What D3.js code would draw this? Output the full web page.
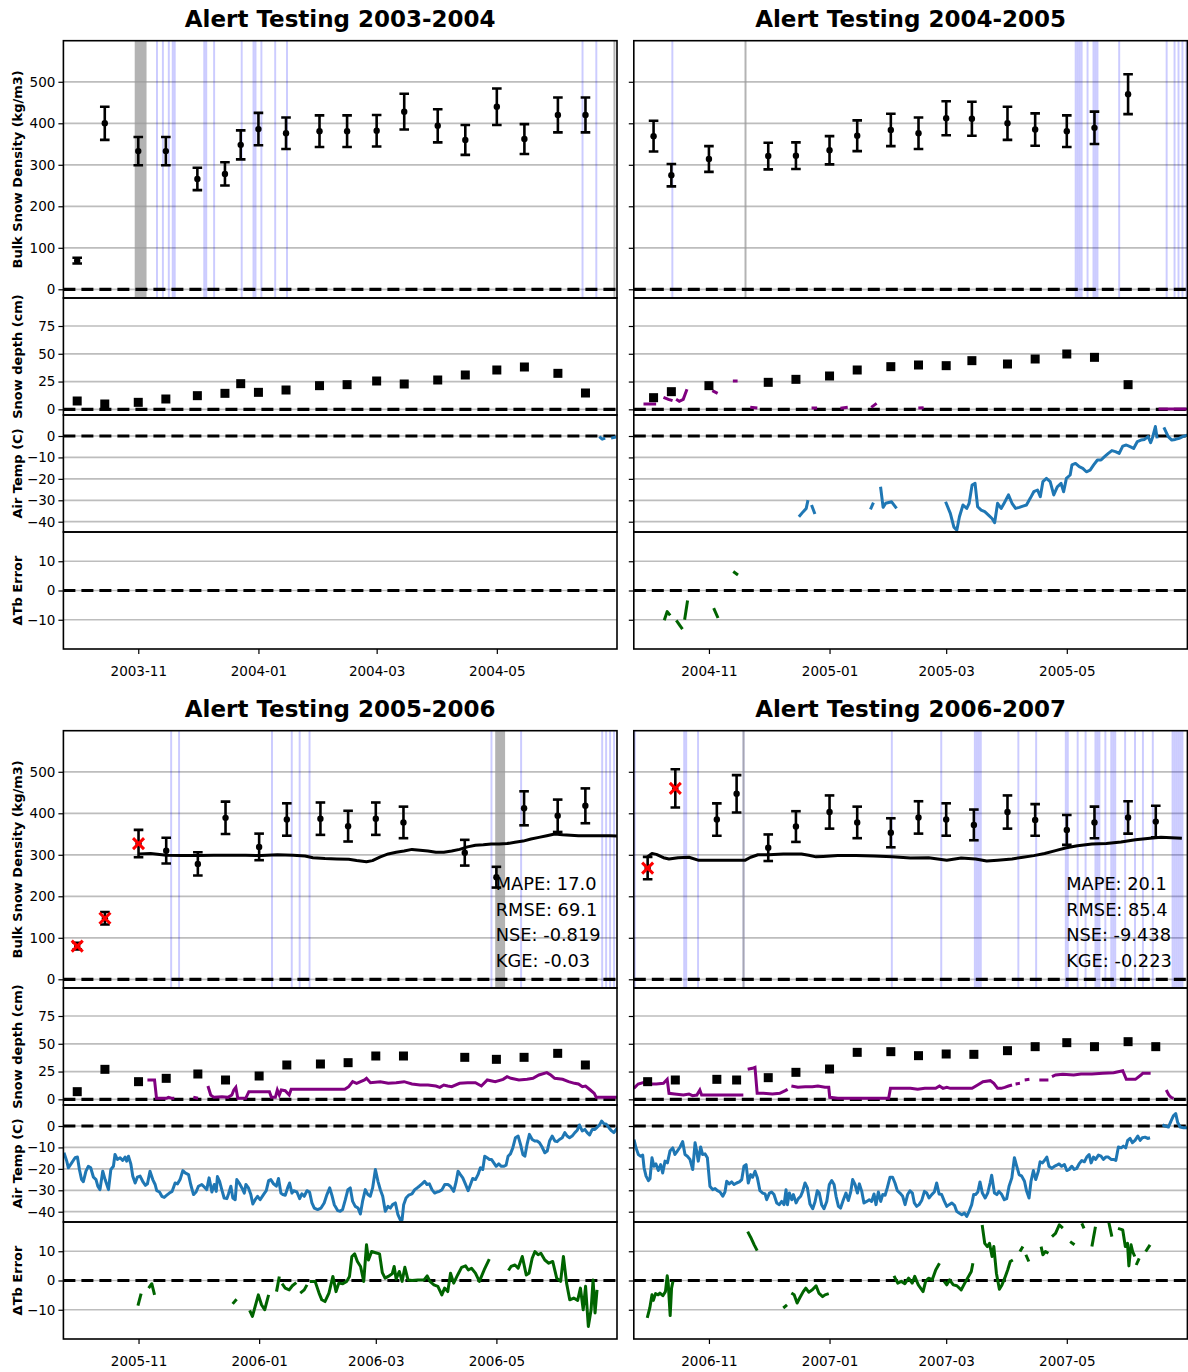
<!DOCTYPE html>
<html>
<head>
<meta charset="utf-8">
<script src="https://cdn.jsdelivr.net/npm/d3@7"></script>
<style>
  body { margin: 0; background: #fff; }
  svg { display: block; }
  text { font-family: "DejaVu Sans", sans-serif; fill: #000; }
</style>
</head>
<body>
<svg id="chart" width="1188" height="1372"></svg>
<script>
// ---------------- Season definitions ----------------
const titles = ["Alert Testing 2003-2004", "Alert Testing 2004-2005", "Alert Testing 2005-2006", "Alert Testing 2006-2007"];
const seasonStart = ["2003-09-24", "2004-09-24", "2005-09-24", "2006-09-24"];
const seasonEnd = ["2004-07-01", "2005-07-01", "2006-07-01", "2007-07-01"];

const xTicks_0304 = ["2003-11-01", "2004-01-01", "2004-03-01", "2004-05-01"];
const xTicks_0405 = ["2004-11-01", "2005-01-01", "2005-03-01", "2005-05-01"];
const xTicks_0506 = ["2005-11-01", "2006-01-01", "2006-03-01", "2006-05-01"];
const xTicks_0607 = ["2006-11-01", "2007-01-01", "2007-03-01", "2007-05-01"];

const densityTicks = [0, 100, 200, 300, 400, 500];
const depthTicks = [0, 25, 50, 75];
const tempTicks = [0, -10, -20, -30, -40];
const dtbTicks = [-10, 0, 10];

// ---------------- Snow-pit observations ----------------
const obsDates_0304 = ["2003-10-01","2003-10-15","2003-11-01","2003-11-15","2003-12-01","2003-12-15","2003-12-23","2004-01-01","2004-01-15","2004-02-01","2004-02-15","2004-03-01","2004-03-15","2004-04-01","2004-04-15","2004-05-01","2004-05-15","2004-06-01","2004-06-15"];
const density_0304 = [69, 400, 333, 333, 266, 278, 348, 386, 376, 381, 381, 382, 428, 394, 360, 440, 362, 420, 420];
const densityErr_0304 = [7, 40, 34, 34, 27, 28, 35, 39, 38, 38, 38, 38, 43, 40, 36, 44, 36, 42, 42];
const depth_0304 = [7.5, 4.8, 6.3, 9.3, 12.3, 14.4, 23.1, 15.3, 17.4, 21.3, 22.2, 25.5, 22.8, 26.4, 30.9, 35.4, 38.1, 32.4, 14.7];
const flagged_0304 = [];

const obsDates_0405 = ["2004-10-04","2004-10-13","2004-11-01","2004-12-01","2004-12-15","2005-01-01","2005-01-15","2005-02-01","2005-02-15","2005-03-01","2005-03-14","2005-04-01","2005-04-15","2005-05-01","2005-05-15","2005-06-01"];
const density_0405 = [369, 275, 314, 321, 322, 335, 370, 384, 376, 412, 411, 400, 385, 381, 389, 470];
const densityErr_0405 = [37, 27, 31, 32, 32, 34, 37, 39, 38, 41, 41, 40, 39, 38, 39, 48];
const depth_0405 = [10.5, 15.9, 21.3, 24.3, 27, 30, 35.4, 38.4, 39.9, 39.3, 43.8, 40.8, 45.3, 49.8, 46.8, 22.2];
const flagged_0405 = [];

const obsDates_0506 = ["2005-10-01","2005-10-15","2005-11-01","2005-11-15","2005-12-01","2005-12-15","2006-01-01","2006-01-15","2006-02-01","2006-02-15","2006-03-01","2006-03-15","2006-04-15","2006-05-01","2006-05-15","2006-06-01","2006-06-15"];
const density_0506 = [80, 147, 327, 310, 278, 389, 319, 385, 387, 369, 387, 378, 305, 246, 412, 394, 418];
const densityErr_0506 = [8, 15, 33, 31, 28, 39, 32, 39, 39, 37, 39, 38, 31, 25, 41, 39, 42];
const depth_0506 = [6.9, 27, 15.9, 18.9, 22.8, 17.4, 21, 30.9, 31.8, 33, 39, 39, 37.8, 36, 37.8, 41.4, 30.9];
const flagged_0506 = [0, 1, 2];

const obsDates_0607 = ["2006-10-01","2006-10-15","2006-11-05","2006-11-15","2006-12-01","2006-12-15","2007-01-01","2007-01-15","2007-02-01","2007-02-15","2007-03-01","2007-03-15","2007-04-01","2007-04-15","2007-05-01","2007-05-15","2007-06-01","2007-06-15"];
const density_0607 = [268, 460, 385, 447, 317, 368, 403, 378, 353, 390, 385, 372, 403, 384, 360, 378, 390, 380];
const densityErr_0607 = [27, 46, 39, 45, 32, 37, 40, 38, 35, 39, 39, 37, 40, 38, 36, 38, 39, 38];
const depth_0607 = [15.9, 17.4, 18, 17.4, 19.5, 24.3, 27.3, 42.3, 42.9, 39.3, 40.8, 40.5, 43.8, 47.4, 51, 47.4, 51.9, 47.4];
const flagged_0607 = [0, 1];

// ---------------- Event days (days since season start) ----------------
const spansBlue_0304 = [47, 50, 53, 55, 56, 71, 72, 76, 90, 96, 97, 100, 107, 113, 263, 270];
const spansGray_0304 = [[36.2, 42.2], [279.2, 280.2]];
const spansBlue_0405 = [19, 223, 224, 225, 226, 229, 232, 233, 234, 245, 269, 273, 275, 277, 279];
const spansGray_0405 = [[56, 57]];
const spansBlue_0506 = [54, 58, 105, 115, 119, 124, 216, 231, 272, 274, 276, 278];
const spansGray_0506 = [[218.4, 223.4]];
const spansBlue_0607 = [0, 25, 26, 32, 55, 130, 155, 172, 173, 174, 175, 194, 203, 218, 219, 224, 228, 233, 234, 235, 238, 241, 242, 243, 248, 253, 257, 262, 272, 273, 274, 275, 276, 277];
const spansGray_0607 = [[55, 56]];

// ---------------- Modelled bulk density [day, kg/m3] ----------------
const model_0304 = [];
const model_0405 = [];
const model_0506 = [[38.1,302],[44.1,303],[52.1,299],[60.1,298],[68.1,298],[76.1,299],[84.2,299],[92.2,299],[100.2,298],[108.2,300],[116.2,299],[122.2,297],[126.2,293],[132.3,291],[138.3,290],[144.3,289],[148.3,286],[153.3,283],[156.3,286],[160.3,295],[164.3,302],[168.3,306],[172.3,309],[176.3,313],[180.4,311],[184.4,309],[188.4,306],[192.4,306],[196.4,309],[200.4,313],[204.4,319],[208.4,323],[212.4,324],[216.4,326],[220.4,326],[224.4,327],[228.4,330],[232.5,333],[236.5,338],[240.5,342],[244.5,346],[248.5,350],[252.5,348],[256.5,347],[260.5,346],[264.5,346],[268.5,346],[272.5,346],[276.5,346],[280.2,345]];
const model_0607 = [[6.8,295],[9.2,303],[11.4,301],[15,293],[17.8,290],[22.4,293],[27.9,294],[32.5,287],[38.9,287],[48.1,287],[56.4,287],[59.1,294],[62.8,300],[68.3,300],[75.6,302],[84.8,302],[88.5,299],[92.2,295],[95.8,296],[103.2,298],[112.4,298],[121.5,297],[130.7,295],[139.9,292],[149.1,293],[158.3,287],[165.6,292],[172.9,290],[178.5,285],[184,287],[191.3,290],[196.8,294],[202.3,298],[207.8,303],[213.3,310],[218.8,317],[224.4,322],[231.7,326],[239,327],[246.4,331],[253.7,336],[261.1,340],[266.6,342],[277.2,340]];

const metrics_0304 = [];
const metrics_0405 = [];
const metrics_0506 = ["MAPE: 17.0", "RMSE: 69.1", "NSE: -0.819", "KGE: -0.03"];
const metrics_0607 = ["MAPE: 20.1", "RMSE: 85.4", "NSE: -9.438", "KGE: -0.223"];

// ---------------- Station series, gaps split into segments [day, value] ----------------
const snowSensor_0304 = [];
const snowSensor_0405 = [
  [[4.9,4.8],[11.3,4.8]],
  [[15,10.8],[17.5,9],[19.6,7.8]],
  [[21.4,9],[23,7.2],[25,9],[26.9,18]],
  [[39.7,16.8],[42.4,14.4]],
  [[50.1,25.5],[52.5,25.5]],
  [[58.9,1.8],[62.5,1.2]],
  [[89.9,1.2],[92.7,1.2]],
  [[104.5,0.9],[108.2,1.8]],
  [[120.1,1.8],[122.8,5.4]],
  [[143.9,1.2],[146.6,1.5]],
  [[265.4,0.3],[280,0.3]]
];
const snowSensor_0506 = [
  [[42.5,17.4],[46.1,17.4],[47.1,0.9],[52.1,0.9],[53.1,1.8],[55.1,0.9],[56.1,0.9]],
  [[65.7,1.8],[68.1,0.9]],
  [[73.1,12],[74.5,3.9],[76.1,1.8],[80.2,2.4],[83.2,1.8],[85.2,3.9],[86.2,8.4],[87.2,10.8],[88.2,0.9],[92.2,0.9],[93.8,6.9],[104.2,6.9],[105.2,1.8],[107.2,1.8],[108.2,8.4],[109.2,3.9],[110.2,8.4],[112.2,7.8],[114.2,3.9],[115.2,9],[117.2,9],[142.3,9],[144.3,11.4],[146.3,15.9],[148.3,14.4],[152.3,17.4],[153.3,18.9],[155.3,15],[160.3,15.9],[164.3,14.4],[168.3,15],[172.3,15.9],[176.3,13.8],[180.4,12.9],[184.4,12.9],[188.4,12],[190.4,10.8],[192.4,12.9],[194.4,12],[196.4,11.4],[200.4,14.4],[204.4,15],[208.4,15],[211.4,12],[214.4,17.4],[218.4,15.9],[222.4,18],[224.4,20.4],[226.4,18.9],[230.4,17.4],[234.5,18],[237.5,18.9],[240.5,21.9],[244.5,24],[246.5,21.9],[248.5,18.9],[252.5,18],[255.5,15.9],[258.5,14.4],[260.5,13.8],[262.5,11.4],[264.1,12],[266.5,8.4],[268.5,5.4],[269.5,1.8],[271.5,1.8],[280,1.8]]
];
const snowSensor_0607 = [
  [[0,9.9],[2.2,13.8],[4.9,15],[7.7,13.8],[11.4,13.8],[15,14.4],[16.9,18],[17.8,5.4],[20.6,4.8],[25.1,3.9],[27.9,4.8],[29.7,3.3],[31.9,3.9],[33.4,8.4],[34.3,3.9],[37.1,3.9],[40.8,3.9],[48.1,3.9],[55.4,3.9]],
  [[57.6,27],[60,27.9],[61.3,28.8],[62.4,5.4],[65.5,5.4],[70.1,4.8],[73.8,5.4],[76.6,7.8],[77.8,9]],
  [[79.7,12],[83,10.8],[86.7,11.4],[90.3,11.4],[93.1,12],[96.7,10.8],[98.6,10.8],[99.1,1.8],[103.2,0.9],[112.4,0.9],[121.5,0.9],[128.9,0.9],[129.8,9.9],[132.6,9.9],[136.2,9.9],[139.9,9.9],[143.6,9],[147.2,9.9],[152.7,9.9],[154.6,12],[156.4,9.9],[158.3,10.8],[160.1,9.9],[161.9,9.9],[165.6,9.9],[171.1,9.9],[173.9,12.9],[176.6,15.9],[180.3,16.8],[182.1,14.4],[184,9.9],[185.8,9.9],[187.6,10.8],[189.5,12],[191.3,12.9]],
  [[193.1,13.8],[195.3,14.4]],
  [[197.7,17.4],[200.1,18]],
  [[205.1,17.4],[209.7,17.4]],
  [[211.5,20.4],[213.3,21.9],[217,22.5],[222.5,21.9],[226.2,22.8],[231.7,22.8],[237.2,23.4],[242.7,24],[247.3,25.8],[249.1,18],[253.7,18],[256.5,21.9],[257.4,23.4],[261.4,23.4]],
  [[269.3,8.4],[270.6,3.9],[271.7,1.8],[273,0.9]]
];

const airTemp_0304 = [
  [[272,-0.3],[273.5,-1.5],[275,-1]],
  [[278,-1],[280.5,-0.5]]
];
const airTemp_0405 = [
  [[83.5,-37.7],[85.7,-35.3],[87.2,-33.8],[88.1,-29.9]],
  [[89.9,-32.2],[91.6,-36.4]],
  [[119.7,-34.2],[121.2,-31.1]],
  [[124.8,-23.7],[126.1,-33.3],[127.4,-31.4],[130.4,-30.7],[132.9,-33.8]],
  [[157.7,-30.7],[160.1,-36.1],[161.9,-42.5],[163.4,-43.9],[164.7,-37.7],[166.5,-32.2],[168.4,-33.8],[169.6,-31.4],[171.1,-22.9],[172.6,-22.1],[173.9,-33],[175.7,-34.6],[177.5,-35.3],[179.4,-36.9],[181.2,-38.5],[182.5,-40.5],[184,-31.4],[185.8,-33.8],[187.3,-31.4],[189.5,-27.5],[191.3,-31.4],[193.1,-33.8],[195,-33.3],[196.8,-32.7],[198.6,-32.2],[200.5,-29.1],[202.3,-26],[204.2,-25.2],[205.6,-28.3],[206.9,-21.3],[208.7,-19.8],[210.6,-21.3],[212.4,-27.5],[214.2,-23.7],[216.1,-22.1],[217.4,-26],[218.8,-19.8],[220.7,-18.2],[221.6,-13.5],[223.4,-12.8],[225.3,-14.3],[227.1,-15.1],[228.9,-16.7],[230.8,-15.9],[232.6,-13.5],[234.5,-11.2],[236.3,-11.2],[238.1,-9.6],[240,-8.1],[241.8,-6.8],[243.6,-7.3],[245.5,-8.1],[247.3,-4.7],[249.1,-4.2],[251,-5],[252.8,-5.8],[254.7,-2.6],[256.5,-1.9],[258.3,-1.6],[260.1,-0.3],[261.4,-3.1],[262.5,-0.3],[263.8,4.4],[264.7,-1.1]],
  [[268.1,4],[270.3,-0.3],[272.1,-1.9],[273.9,-1.6],[275.8,-1.1],[277.6,-0.3],[280.3,0.5]]
];
const airTemp_0506 = [
  [[0.3,-12.5],[1.7,-16.4],[2.5,-19.5],[4.2,-17.2],[5.9,-14.8],[7.1,-14.5],[8.1,-20.3],[9.2,-25],[10.1,-26],[11.4,-21.1],[12.6,-18.8],[13.8,-19.5],[15.2,-23.9],[16.5,-25],[17.4,-28.1],[18.5,-29.7],[19.9,-21.1],[21.1,-25],[22.8,-29.7],[24,-20.3],[25.3,-18.8],[26.1,-13.3],[27.3,-15.6],[28.7,-14.8],[30,-16.1],[31.2,-14.5],[32,-16.4],[32.9,-14.1],[34.1,-17.7],[35.1,-23.4],[36.3,-26.6],[37.4,-23.9],[38.8,-23.4],[40.1,-25.8],[41.5,-27.7],[42.5,-27],[43.8,-21.1],[45.2,-25],[46.4,-27.3],[47.2,-30.2],[48.6,-30.8],[49.8,-32.8],[51,-33.3],[52.3,-32.3],[53.6,-31.3],[55,-30.5],[56.5,-26.6],[57.7,-27],[59,-25],[60.4,-20.8],[61.6,-21.9],[63.3,-22.7],[64.4,-27.3],[65.8,-32],[67.1,-30.8],[68.3,-28.1],[70,-27.3],[71.4,-28.6],[72.5,-29.7],[73.7,-24.2],[75.1,-30.8],[76.3,-27.3],[77.3,-30.5],[77.9,-23.6],[79,-25.8],[80.1,-29.7],[81.3,-33.6],[82.7,-33.9],[83.5,-31.7],[84.7,-28.1],[85.7,-33.6],[86.9,-34.4],[87.7,-25],[88.9,-26.6],[90.3,-28.9],[91.5,-31.3],[92.3,-27.3],[93.6,-28.9],[94.8,-32],[95.8,-36.4],[97,-34.4],[98.2,-32.8],[99.5,-34.4],[101.2,-32],[102.6,-30.2],[103.8,-25.5],[104.9,-25],[106.3,-27],[107.7,-28.1],[108.8,-24.5],[110,-31.3],[111,-32],[112.2,-32.3],[113.4,-28.9],[114.4,-26.6],[115.6,-31.3],[116.4,-30.2],[118.1,-30.8],[119.5,-33.9],[120.6,-31.7],[121.8,-32.8],[123.2,-30.2],[124.5,-30.8],[125.7,-35.9],[126.9,-38.3],[128.6,-39],[130.3,-38.3],[131.9,-35.9],[133.3,-32],[134.7,-28.9],[135.8,-32.3],[137,-36.7],[138.8,-39.5],[140,-39.8],[141.2,-39],[142.6,-34.4],[143.9,-29.7],[145.1,-28.9],[146.3,-35.2],[147.6,-37.5],[149,-38.3],[150.2,-41.1],[151.3,-35.2],[152.7,-29.7],[154,-32],[155.2,-32.8],[156.4,-28.9],[157.8,-20.3],[159.1,-25.8],[160.3,-29.7],[161.5,-32.8],[162.8,-39.8],[164.2,-37.5],[165.4,-38.3],[166.5,-36.7],[167.9,-35.9],[169.2,-41.4],[170.4,-43.8],[171.3,-43.8],[172.1,-36.7],[173.3,-33.6],[174.6,-32.3],[176.3,-31.7],[177.7,-29.7],[178.9,-28.9],[180,-28.1],[181.4,-27],[182.7,-25.8],[183.9,-27.3],[185.1,-27],[186.4,-29.7],[187.8,-31.3],[189,-30.8],[190.2,-30.5],[191.5,-29.7],[192.9,-27.3],[194.5,-27.3],[195.7,-28.1],[197.4,-30.5],[198.6,-26.1],[199.6,-21.1],[200.8,-22.7],[202,-24.2],[203.3,-27],[204.7,-30.2],[205.9,-27.3],[207,-24.5],[208.4,-25],[209.7,-22.7],[210.9,-19.5],[212.1,-20.3],[213.1,-14.1],[214.3,-14.8],[215.5,-15.6],[216.5,-15.6],[217.7,-17.2],[218.9,-18.8],[220.2,-17.7],[221.5,-18.8],[222.7,-18.8],[223.9,-18.3],[224.9,-14.1],[226.1,-13],[227.3,-10.2],[228.6,-5.5],[230,-4.7],[231.2,-8.6],[232.4,-13.3],[233.4,-14.1],[234.5,-8.6],[235.7,-3.9],[237.1,-6.3],[238.4,-7],[239.6,-7],[240.8,-7.8],[242.1,-9.8],[243.5,-12.5],[244.7,-11.7],[245.9,-7],[247.2,-4.7],[248.6,-7],[249.7,-7.3],[250.9,-6.3],[252.3,-5.5],[253.6,-3.1],[254.8,-4.7],[256,-5.5],[257.3,-4.7],[258.7,-3.1],[259.9,-2],[261,0.5],[262.4,-2.3],[263.7,-1.6],[264.9,-3.1],[266.1,-4.2],[267.5,-1.6],[268.8,-1.6],[270,-0.5],[271.2,0.5],[272.2,2.3],[273.4,1.1],[274.6,0.8],[275.9,-0.8],[277.3,-2.3],[278.4,-3.1],[279.6,-1.6],[281,0]]
];
const airTemp_0607 = [
  [[0.1,-6.3],[1.1,-10.2],[2.3,-13.3],[3.5,-14.1],[4.5,-13.6],[5.2,-19.5],[6.2,-23.4],[7.4,-25.5],[8.2,-24.5],[9.2,-14.8],[10.2,-18.8],[11.2,-17.7],[12.4,-20.8],[13.6,-18],[14.6,-21.9],[15.8,-16.4],[17,-17.2],[18.3,-11.7],[19.7,-10.2],[20.8,-13.3],[22,-11.7],[23.4,-9.8],[24.7,-7.3],[25.9,-13.3],[27.1,-14.1],[28.4,-15.6],[29.8,-20.3],[31,-7.8],[31.8,-11.7],[32.6,-16.4],[33.8,-9.8],[34.8,-13.3],[36,-13],[37.2,-14.8],[38.5,-28.1],[39.9,-29.7],[41.1,-29.2],[42.3,-30.2],[43.6,-30.8],[45,-32.8],[46.1,-30.8],[47,-25.8],[48.3,-27],[49.5,-26.1],[50.7,-27.3],[52,-26.6],[53.4,-26.1],[54.6,-25],[55.7,-18.8],[56.8,-18],[57.9,-26.6],[59.1,-22.7],[60.1,-23.9],[61.3,-21.1],[62.5,-24.2],[63.8,-30.2],[65.2,-31.3],[66.4,-31.7],[67.2,-34.4],[68.6,-31.3],[69.7,-30.8],[70.9,-32],[72.3,-35.9],[73.6,-36.7],[74.8,-35.2],[76,-36.7],[77,-29.7],[77.7,-36.7],[78.7,-31.3],[79.9,-34.4],[80.7,-32],[82.1,-35.9],[83.2,-33.9],[84.4,-32.8],[85.4,-30.5],[86.6,-26.6],[87.8,-28.9],[89.1,-36.4],[90.5,-38.6],[91.7,-35.2],[92.8,-30.2],[93.8,-31.3],[95,-36.7],[96.2,-38.6],[97.6,-35.2],[98.9,-27.3],[100.1,-25.5],[101.3,-27.3],[102.3,-32.8],[103.5,-37.5],[104.6,-38.3],[106,-34.4],[107.3,-31.3],[108.5,-34.8],[109.7,-30.8],[110.7,-25],[111.9,-27.3],[113.1,-31.3],[114.1,-27],[115.3,-30.5],[116.4,-35.9],[117.8,-35.2],[119.1,-34.4],[120.3,-35.2],[121.5,-31.7],[122.5,-36.7],[123.7,-30.8],[124.9,-35.2],[125.9,-32],[127.1,-32.3],[128.2,-28.9],[129.6,-23.9],[130.9,-23.9],[132.1,-26.6],[133.3,-30.2],[134.6,-31.3],[136,-32.8],[137.2,-36.7],[138.5,-32],[139.7,-30.2],[140.9,-31.3],[141.9,-35.9],[143.1,-37.5],[144.3,-36.7],[145.6,-34.8],[147,-30.5],[148.2,-31.3],[149.3,-33.6],[150.7,-32],[152,-30.8],[153.2,-26.6],[154.4,-31.7],[155.7,-32],[157.1,-35.2],[158.3,-37.5],[159.5,-36.7],[160.8,-35.9],[162.2,-37],[163.3,-39.8],[164.5,-40.6],[165.9,-41.4],[167.2,-40.6],[168.4,-42.2],[169.6,-39.8],[170.9,-36.7],[171.9,-32],[172.9,-32],[174,-30.8],[175.1,-26.1],[176.3,-31.3],[177.7,-33.6],[179,-31.3],[180.2,-26.6],[181,-23],[182.4,-31.3],[183.6,-32],[184.7,-30.5],[186.1,-32],[187.4,-34.4],[188.6,-33.9],[189.8,-28.1],[191.2,-24.2],[192.5,-14.8],[193.7,-18.8],[194.9,-22.7],[196.2,-23.4],[197.6,-25.8],[198.7,-30.5],[199.9,-33.6],[200.9,-25.8],[202.1,-20.8],[203.3,-25],[204.6,-21.1],[205.5,-16.7],[206.7,-17.2],[207.7,-16.1],[208.9,-14.5],[210,-18.8],[211.4,-19.8],[212.7,-18.8],[213.9,-18.3],[215.1,-17.7],[216.4,-18.8],[217.8,-18],[219,-20.8],[220.2,-20.3],[221.5,-18.8],[222.8,-20.3],[224,-19.8],[225.2,-17.7],[226.6,-16.1],[227.9,-16.7],[229.1,-14.5],[230.3,-13.3],[231.3,-17.2],[232.5,-14.5],[233.6,-15.6],[235,-13.6],[236.3,-14.1],[237.5,-15.6],[238.7,-14.5],[240,-14.5],[241.4,-15.6],[242.6,-15.6],[243.8,-16.1],[245.1,-9.8],[246.5,-10.2],[247.6,-9.4],[248.8,-10.2],[249.8,-6.7],[251,-5.8],[252.2,-7.8],[253.5,-6.7],[254.9,-4.7],[256.1,-6.7],[257.2,-5.5],[258.6,-5.2],[259.9,-5.8],[261.1,-5.5]],
  [[267.4,0.5],[268.7,0],[270.4,-0.5],[271.7,2.3],[272.9,4.7],[274.1,5.8],[275.1,1.6],[276.3,-0.5],[278,-0.8],[280.2,-0.8]]
];

const dTb_0304 = [];
const dTb_0405 = [
  [[15.4,-10.2],[16.9,-7.2],[18.4,-8.5]],
  [[21.5,-10.2],[24.6,-13.2]],
  [[25.7,-10],[27.2,-3.4]],
  [[40.4,-6],[42.6,-9.4]],
  [[50.3,6.5],[52.7,5.3]]
];
const dTb_0506 = [
  [[37.7,-8.6],[39.3,-4.5]],
  [[43.1,-2.6],[44.7,-1.1],[46.1,-4.9]],
  [[85.6,-8],[87.6,-6.4]],
  [[94.2,-10.2],[95.6,-12.3],[97.2,-8.3],[98.6,-4.9],[100.2,-8.3],[101.8,-10],[103.8,-4.9]],
  [[107.8,-3.8],[109.2,1.4]],
  [[110.6,-1.1],[112.2,-2.6],[114.2,-3.2],[115.8,-1.8],[117.8,-0.7]],
  [[119.8,-4.3],[121.8,-3.2],[123.2,-1.5]],
  [[124.6,-0.3],[127.3,-0.3],[129.3,-4.3],[130.7,-6.6],[132.3,-7.2],[134.3,-4.3],[136.3,1.4],[137.9,-3.8],[139.3,-0.9],[141.3,-1.1],[143.3,-0.3],[144.7,1.4],[145.9,8.2],[147.3,9.1],[148.7,6.5],[150.3,4.8],[151.9,-0.3],[153.3,12.2],[154.3,7],[155.9,9.9],[157.9,9.5],[159.9,9.1],[161.3,2.7],[162.7,0.8],[164.3,1.4],[166.3,2.3],[167.3,4.8],[168.3,0.5],[169.9,3.1],[171.3,-0.3],[172.7,4.5],[174.3,0.2],[176.3,0],[179.3,0.2],[182.4,0.2],[184,1.6],[185.4,-0.3],[187.4,-1.5],[189.4,-2],[191.4,-4.9],[192.8,-2.6],[194.4,-3.8],[195.8,2.5],[197.4,-0.9],[199.4,1.9],[201.4,4.5],[203.4,5],[204.8,3.6],[206.4,4.2],[208.4,2.5],[210.4,-0.3],[212.8,3.6],[215.4,7.3]],
  [[225.1,3.4],[226.4,4.8],[228.4,5.3],[230,4.2],[232.1,8.2],[234.1,1.9],[235.5,2.5],[237.1,7.6],[238.5,9.9],[240.1,8.8],[241.5,9.3],[243.5,7],[245.5,5.9],[247.5,6.5],[249.5,0.8],[251.5,-0.3],[252.9,8.2],[254.5,-0.9],[256.1,-6.6],[258.1,-6],[260.1,-6.8],[261.5,-2.6],[262.9,-10],[264.1,-2],[265.5,-15.7],[266.9,-10],[267.9,0.2],[268.9,-11.1],[269.9,-3.2]]
];
const dTb_0607 = [
  [[6.8,-12.8],[8.1,-9.4],[9.2,-4.9],[9.9,-6.8],[11,-4.5],[12.3,-4.9],[13.2,-4.3],[14.7,-5.2],[16,-3.8],[16.9,1.6],[17.4,-0.9],[18.4,-12],[19.1,-2.6],[19.8,-0.3]],
  [[57.6,16.7],[59.1,14.8],[60.9,12.2],[62.4,10.2]],
  [[75.6,-9.4],[77.5,-8.3]],
  [[79.7,-4.3],[81.1,-4.9],[82.6,-7.7],[83.9,-6],[85.7,-3.8],[87,-2.6],[88.5,-4],[90.3,-3.2],[92.2,-1.8],[93.6,-4.3],[95.5,-5.5],[96.7,-4.9],[98.6,-4.5]],
  [[131.6,1.6],[133.5,-0.9],[135.3,-0.3],[137.1,-1.1],[139,0.8],[140.8,-0.9],[142.1,1.4],[143.9,-1.5],[146.3,-3.8],[147.6,-0.3],[149.1,0.8],[150.9,0.2],[152.7,3.6],[154.6,5.9]],
  [[157,-0.3],[158.3,-1.5],[159.7,0.2],[161.6,-1.5],[163.4,-1.8],[165.6,-3.2],[167.4,-0.9],[169.3,1.4],[170.7,3.1],[171.5,5.9]],
  [[176.2,19],[177.5,12.7],[178.8,11.6],[179.9,12.7],[181.2,8.2],[182.1,11.6],[183.4,2.5],[184.9,-3],[186.2,-1.5],[187.6,0.8],[189.1,3.6],[190.4,6.5],[191.7,7]],
  [[195.3,9.9],[196.8,11.6]],
  [[198.3,8.8],[199.8,6.5]],
  [[206,11.6],[206.9,8.8],[208.2,9.9],[209.7,9.3]],
  [[211.5,15],[213.3,16.1],[215.2,19],[217,17.9]],
  [[220.7,13.3],[222.9,12.2]],
  [[226.6,19.5],[227.7,17.8]],
  [[231.7,11.6],[233.5,18.4]],
  [[240,20.7],[241.8,15]],
  [[244.9,17.8],[247.3,17.3],[248.6,11.6],[249.7,12.7],[250.4,5],[251.5,12.2],[252.3,9.9],[253.4,8.2]],
  [[254.1,5.3],[255.6,7.6]],
  [[258.9,9.9],[261.1,12.2]]
];

// ---------------- Assemble seasons ----------------
const seasons = [
  {title: titles[0], start: seasonStart[0], end: seasonEnd[0], ticks: xTicks_0304, dates: obsDates_0304, dens: density_0304, err: densityErr_0304, depth: depth_0304, flagged: flagged_0304, blue: spansBlue_0304, gray: spansGray_0304, model: model_0304, metrics: metrics_0304, snow: snowSensor_0304, temp: airTemp_0304, dtb: dTb_0304},
  {title: titles[1], start: seasonStart[1], end: seasonEnd[1], ticks: xTicks_0405, dates: obsDates_0405, dens: density_0405, err: densityErr_0405, depth: depth_0405, flagged: flagged_0405, blue: spansBlue_0405, gray: spansGray_0405, model: model_0405, metrics: metrics_0405, snow: snowSensor_0405, temp: airTemp_0405, dtb: dTb_0405},
  {title: titles[2], start: seasonStart[2], end: seasonEnd[2], ticks: xTicks_0506, dates: obsDates_0506, dens: density_0506, err: densityErr_0506, depth: depth_0506, flagged: flagged_0506, blue: spansBlue_0506, gray: spansGray_0506, model: model_0506, metrics: metrics_0506, snow: snowSensor_0506, temp: airTemp_0506, dtb: dTb_0506},
  {title: titles[3], start: seasonStart[3], end: seasonEnd[3], ticks: xTicks_0607, dates: obsDates_0607, dens: density_0607, err: densityErr_0607, depth: depth_0607, flagged: flagged_0607, blue: spansBlue_0607, gray: spansGray_0607, model: model_0607, metrics: metrics_0607, snow: snowSensor_0607, temp: airTemp_0607, dtb: dTb_0607}
];

// ---------------- Layout ----------------
const panelX = [63.4, 633.8];
const panelW = 553.6;
const rowY = [0, 690];
const bands = {dens: [40.7, 298], depth: [298, 415], temp: [415, 532], dtb: [532, 649]};
const domains = {dens: [-21, 599], depth: [-5.1, 100.2], temp: [-44.8, 9.8], dtb: [-20, 20]};

const svg = d3.select("#chart");
const defs = svg.append("defs");
let clipCount = 0;
const toDate = s => new Date(s + "T00:00:00Z");
const DAY = 864e5;

seasons.forEach((s, i) => {
  const col = i % 2, row = Math.floor(i / 2);
  const left = panelX[col], right = left + panelW, oy = rowY[row];
  const t0 = toDate(s.start);
  const x = d3.scaleUtc().domain([t0, toDate(s.end)]).range([left, right]);
  const xd = d => x(new Date(t0.getTime() + d * DAY));
  const g = svg.append("g");

  g.append("text")
    .attr("x", (left + right) / 2).attr("y", oy + 27)
    .attr("text-anchor", "middle").attr("font-weight", "bold").attr("font-size", 23)
    .text(s.title);

  const axesDefs = [
    {key: "dens", ticks: densityTicks, label: "Bulk Snow Density (kg/m3)"},
    {key: "depth", ticks: depthTicks, label: "Snow depth (cm)"},
    {key: "temp", ticks: tempTicks, label: "Air Temp (C)"},
    {key: "dtb", ticks: dtbTicks, label: "\u0394Tb Error"}
  ];

  axesDefs.forEach(a => {
    const top = oy + bands[a.key][0], bot = oy + bands[a.key][1];
    const y = d3.scaleLinear().domain(domains[a.key]).range([bot, top]);
    const id = "clip" + (clipCount++);
    defs.append("clipPath").attr("id", id).append("rect")
      .attr("x", left).attr("y", top).attr("width", panelW).attr("height", bot - top);

    const ga = g.append("g");
    // horizontal grid
    ga.append("g").selectAll("line").data(a.ticks).join("line")
      .attr("x1", left).attr("x2", right)
      .attr("y1", d => y(d)).attr("y2", d => y(d))
      .attr("stroke", "#bdbdbd").attr("stroke-width", 1.7);

    const gc = ga.append("g").attr("clip-path", `url(#${id})`);

    if (a.key === "dens") {
      // flagged-day markers
      gc.append("g").selectAll("rect").data(s.blue).join("rect")
        .attr("x", d => xd(d)).attr("width", d => xd(d + 1) - xd(d))
        .attr("y", top).attr("height", bot - top)
        .attr("fill", "rgb(0,0,255)").attr("fill-opacity", 0.2);
      gc.append("g").selectAll("rect").data(s.gray).join("rect")
        .attr("x", d => xd(d[0])).attr("width", d => xd(d[1]) - xd(d[0]))
        .attr("y", top).attr("height", bot - top)
        .attr("fill", "#999").attr("fill-opacity", 0.75);
    }

    // zero reference
    gc.append("line").attr("x1", left).attr("x2", right)
      .attr("y1", y(0)).attr("y2", y(0))
      .attr("stroke", "#000").attr("stroke-width", 3.2).attr("stroke-dasharray", "12,6");

    const lineGen = d3.line().x(d => xd(d[0])).y(d => y(d[1]));

    if (a.key === "dens") {
      if (s.model.length) {
        gc.append("path").datum(s.model).attr("d", lineGen)
          .attr("fill", "none").attr("stroke", "#000").attr("stroke-width", 3).attr("stroke-linejoin", "round");
      }
      const pts = s.dates.map((d, k) => ({x: x(toDate(d)), v: s.dens[k], e: s.err[k], k}));
      const eb = gc.append("g").attr("stroke", "#000").attr("stroke-width", 2.6);
      pts.forEach(p => {
        eb.append("line").attr("x1", p.x).attr("x2", p.x).attr("y1", y(p.v - p.e)).attr("y2", y(p.v + p.e));
        eb.append("line").attr("x1", p.x - 4.8).attr("x2", p.x + 4.8).attr("y1", y(p.v - p.e)).attr("y2", y(p.v - p.e));
        eb.append("line").attr("x1", p.x - 4.8).attr("x2", p.x + 4.8).attr("y1", y(p.v + p.e)).attr("y2", y(p.v + p.e));
      });
      gc.append("g").selectAll("circle").data(pts).join("circle")
        .attr("cx", p => p.x).attr("cy", p => y(p.v)).attr("r", 3.2).attr("fill", "#000");
      const fx = gc.append("g").attr("stroke", "#ff0000").attr("stroke-width", 3);
      s.flagged.forEach(k => {
        const p = pts[k], cx = p.x, cy = y(p.v), r = 5.5;
        fx.append("line").attr("x1", cx - r).attr("y1", cy - r).attr("x2", cx + r).attr("y2", cy + r);
        fx.append("line").attr("x1", cx - r).attr("y1", cy + r).attr("x2", cx + r).attr("y2", cy - r);
      });
      // skill scores
      s.metrics.forEach((m, k) => {
        ga.append("text").attr("x", left + panelW * 0.781).attr("y", top + 159 + k * 25.8)
          .attr("font-size", 17.8).text(m);
      });
    }
    if (a.key === "depth") {
      gc.append("g").selectAll("path").data(s.snow).join("path").attr("d", lineGen)
        .attr("fill", "none").attr("stroke", "#800080").attr("stroke-width", 3);
      gc.append("g").selectAll("rect").data(s.dates).join("rect")
        .attr("x", (d, k) => x(toDate(d)) - 4.5).attr("y", (d, k) => y(s.depth[k]) - 4.5)
        .attr("width", 9).attr("height", 9).attr("fill", "#000");
    }
    if (a.key === "temp") {
      gc.append("g").selectAll("path").data(s.temp).join("path").attr("d", lineGen)
        .attr("fill", "none").attr("stroke", "#1f77b4").attr("stroke-width", 3).attr("stroke-linejoin", "round");
    }
    if (a.key === "dtb") {
      gc.append("g").selectAll("path").data(s.dtb).join("path").attr("d", lineGen)
        .attr("fill", "none").attr("stroke", "#006400").attr("stroke-width", 3).attr("stroke-linejoin", "round");
    }

    // frame
    ga.append("rect").attr("x", left).attr("y", top).attr("width", panelW).attr("height", bot - top)
      .attr("fill", "none").attr("stroke", "#000").attr("stroke-width", 1.6);

    // y axis
    const yAxis = d3.axisLeft(y).tickValues(a.ticks).tickSize(5).tickPadding(3)
      .tickFormat(col === 0 ? d3.format("d") : () => "");
    const gy = ga.append("g").attr("transform", `translate(${left},0)`).call(yAxis);
    gy.select(".domain").remove();
    gy.selectAll("line").attr("stroke-width", 1.2);
    gy.selectAll("text").attr("font-size", 13.5).attr("font-family", "DejaVu Sans").attr("fill", "#000");

    if (col === 0) {
      ga.append("text")
        .attr("transform", `translate(17.8,${(top + bot) / 2}) rotate(-90)`)
        .attr("dy", "0.35em").attr("text-anchor", "middle")
        .attr("font-weight", "bold").attr("font-size", 13)
        .text(a.label);
    }

    if (a.key === "dtb") {
      const xAxis = d3.axisBottom(x).tickValues(s.ticks.map(toDate)).tickSize(5).tickPadding(12)
        .tickFormat(d3.utcFormat("%Y-%m"));
      const gx = ga.append("g").attr("transform", `translate(0,${bot})`).call(xAxis);
      gx.select(".domain").remove();
      gx.selectAll("line").attr("stroke-width", 1.2);
      gx.selectAll("text").attr("font-size", 13.5).attr("font-family", "DejaVu Sans").attr("fill", "#000");
    }
  });
});
</script>
</body>
</html>
